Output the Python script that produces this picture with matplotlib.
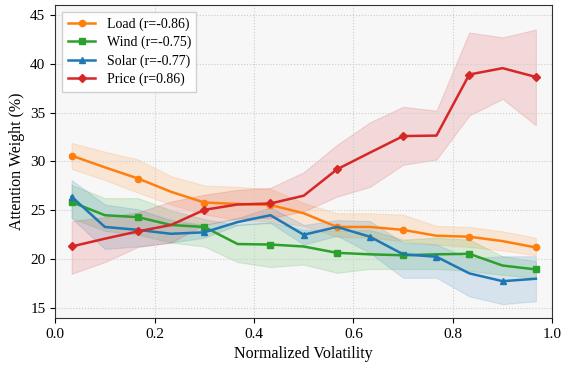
import numpy as np
import matplotlib
matplotlib.use("Agg")
import matplotlib.pyplot as plt

plt.rcParams["font.family"] = ["Liberation Serif", "DejaVu Serif"]

# bin centres of normalized volatility (15 bins)
volatility = [0.033, 0.1, 0.167, 0.233, 0.3, 0.367, 0.433, 0.5, 0.567, 0.633, 0.7, 0.767, 0.833, 0.9, 0.967]

load_mean = [30.6, 29.4, 28.25, 26.9, 25.8, 25.65, 25.55, 24.7, 23.3, 23.3, 23.0, 22.4, 22.3, 21.85, 21.2]
load_upper = [31.9, 31.0, 30.2, 28.5, 27.55, 27.4, 27.2, 25.75, 24.7, 24.7, 24.55, 23.4, 23.3, 22.85, 22.2]
load_lower = [29.25, 28.1, 26.8, 25.6, 24.6, 24.0, 23.9, 23.4, 22.3, 22.2, 21.85, 21.5, 21.25, 20.9, 20.4]

wind_mean = [25.85, 24.5, 24.3, 23.5, 23.3, 21.55, 21.5, 21.3, 20.65, 20.5, 20.4, 20.5, 20.55, 19.35, 18.95]
wind_upper = [27.6, 26.25, 26.25, 25.0, 24.1, 23.5, 23.8, 23.0, 22.9, 23.0, 22.0, 22.2, 22.0, 20.3, 19.8]
wind_lower = [24.2, 22.9, 22.5, 21.7, 21.3, 19.7, 19.2, 19.45, 18.6, 19.0, 19.0, 19.0, 18.8, 18.4, 18.1]

solar_mean = [26.4, 23.3, 23.0, 22.6, 22.75, 23.8, 24.5, 22.5, 23.3, 22.3, 20.5, 20.25, 18.55, 17.75, 18.0]
solar_upper = [28.1, 25.6, 25.1, 24.0, 23.5, 24.2, 25.3, 23.5, 24.0, 23.9, 21.7, 21.5, 20.1, 20.3, 20.3]
solar_lower = [24.2, 21.05, 21.3, 21.7, 22.2, 23.5, 23.7, 21.5, 22.4, 20.65, 18.1, 18.1, 16.2, 15.4, 15.7]

price_mean = [21.3, 22.1, 22.85, 23.5, 25.05, 25.6, 25.7, 26.5, 29.2, 30.9, 32.6, 32.65, 38.9, 39.55, 38.65]
price_upper = [23.9, 24.3, 24.8, 25.9, 26.6, 27.1, 27.3, 28.9, 31.7, 34.0, 35.6, 35.2, 43.2, 42.7, 43.5]
price_lower = [18.5, 19.7, 21.26, 21.7, 23.5, 24.2, 24.2, 24.9, 26.4, 27.4, 29.66, 30.2, 34.7, 36.4, 33.7]

labels = ["Load (r=-0.86)", "Wind (r=-0.75)", "Solar (r=-0.77)", "Price (r=0.86)"]
colors = ["#ff7f0e", "#2ca02c", "#1f77b4", "#d62728"]
markers = ["o", "s", "^", "D"]
mark_idx = [list(range(0, 15, 2)), list(range(0, 15, 2)), [0, 4, 7, 9, 11, 13], list(range(0, 15, 2))]

series = [
    (load_mean, load_lower, load_upper),
    (wind_mean, wind_lower, wind_upper),
    (solar_mean, solar_lower, solar_upper),
    (price_mean, price_lower, price_upper),
]

fig, ax = plt.subplots(figsize=(5.63, 3.67), dpi=100)
fig.subplots_adjust(left=0.098, right=0.981, top=0.986, bottom=0.134)
ax.set_facecolor("#f7f7f7")

for (m, lo, hi), lab, c, mk, idx in zip(series, labels, colors, markers, mark_idx):
    ax.fill_between(volatility, lo, hi, color=c, alpha=0.15, linewidth=0.8)
    ax.plot(volatility, m, color=c, marker=mk, markersize=4.5, markevery=idx,
            linewidth=1.8, label=lab)

ax.set_xlim(0, 1)
ax.set_ylim(14, 46)
ax.set_xticks(np.arange(0, 1.01, 0.2))
ax.set_yticks(range(15, 46, 5))
ax.set_xlabel("Normalized Volatility", fontsize=11.5)
ax.set_ylabel("Attention Weight (%)", fontsize=11.5)
ax.tick_params(labelsize=11)
ax.grid(True, linestyle=":", color="#cccccc", linewidth=0.8)
for s in ax.spines.values():
    s.set_color("#333333")
ax.legend(loc="upper left", fontsize=10, framealpha=0.9, edgecolor="#cccccc",
          fancybox=False, labelspacing=0.35)

fig.savefig("out.png", dpi=100)
